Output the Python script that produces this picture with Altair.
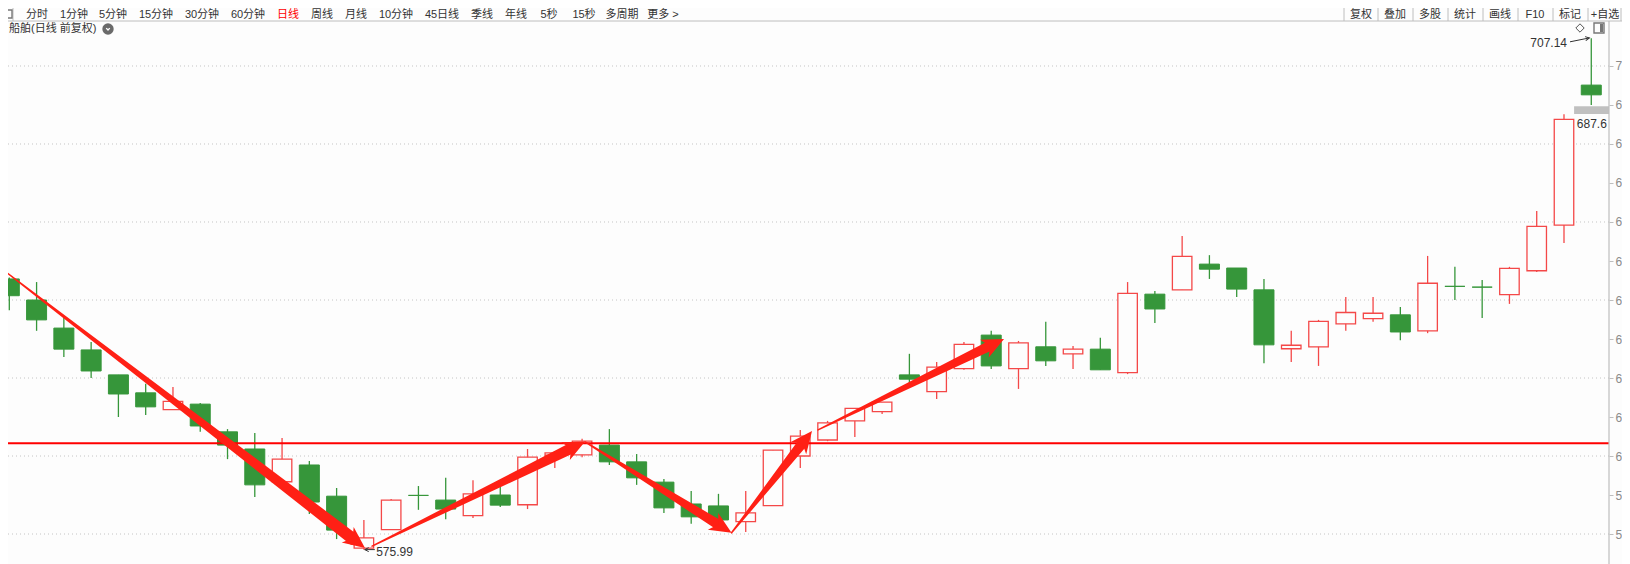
import math
import altair as alt
import pandas as pd

# Candles: body top, body bottom, high, low (prices); up=1 hollow red, up=0 solid green
BODY_TOP = [645.4,640.0,632.8,627.2,620.8,616.2,614.0,613.3,606.2,601.8,599.2,597.7,589.7,579.0,588.7,589.9,588.7,590.3,590.0,599.7,
            600.8,603.8,602.8,598.5,593.3,587.7,587.2,585.4,601.5,605.1,608.5,612.2,613.8,620.8,622.8,628.6,631.0,629.0,628.0,627.4,
            627.4,641.7,641.5,651.2,649.2,648.2,642.6,628.4,634.5,636.8,636.6,636.2,644.3,643.5,643.3,648.1,658.9,686.3,695.1]
BODY_BOT = [641.1,634.9,627.4,621.8,615.9,612.6,611.9,607.7,602.8,592.6,593.4,588.2,581.0,576.4,581.1,589.9,586.4,584.7,587.4,587.5,
            600.2,600.3,598.5,594.4,586.7,584.4,583.6,583.2,587.3,600.0,604.1,609.0,611.4,619.7,616.5,622.4,623.1,622.4,624.4,626.2,
            622.1,621.4,637.7,642.6,647.9,642.8,628.5,627.5,628.0,633.9,635.2,631.8,632.1,643.5,643.3,641.4,647.5,659.2,692.6]
HIGH = [645.8,644.6,635.7,629.2,620.8,618.5,617.7,613.6,606.9,605.9,604.6,598.7,591.8,583.6,589.0,592.3,594.4,593.8,592.1,601.8,
        601.3,604.4,606.9,600.5,594.1,591.0,590.3,591.0,601.5,606.7,609.0,612.2,613.8,626.2,624.1,629.2,632.1,629.5,634.4,628.2,
        630.3,644.6,642.3,656.4,651.5,648.2,645.4,632.1,634.9,640.8,640.8,638.2,651.3,648.5,645.1,648.5,662.8,687.6,707.14]
LOW = [637.4,632.1,625.4,620.0,610.0,610.5,611.9,606.2,599.2,589.5,593.4,585.1,578.7,575.99,581.0,586.2,583.8,584.1,586.9,586.4,
       596.9,599.7,597.7,592.6,585.4,582.6,583.1,580.5,587.3,596.9,603.8,604.9,610.8,618.7,614.6,622.1,622.3,617.2,623.1,622.3,
       622.1,621.0,634.1,642.6,645.4,640.8,623.8,624.1,623.1,632.1,634.4,629.7,631.5,640.0,635.4,639.0,647.2,654.6,690.0]
UP = [0,0,0,0,0,0,1,0,0,0,1,0,0,1,1,0,0,1,0,1,
      1,1,0,0,0,0,0,1,1,1,1,1,1,0,1,1,0,1,0,1,
      0,1,0,1,0,0,0,1,1,1,1,0,1,0,0,1,1,1,0]

GRID_PRICES = [700,680,660,640,620,600,580]
TICK_PRICES = [700,690,680,670,660,650,640,630,620,610,600,590,580]
RED_LEVEL = 603.3

# Arrows: start index, start price, end index, end price
ARROW_X0 = [-0.05,13.30,21.11,26.48,29.65]
ARROW_P0 = [646.8,576.9,603.6,580.3,606.7]
ARROW_X1 = [13.04,21.11,26.48,29.43,36.47]
ARROW_P1 = [576.4,603.7,580.3,606.4,630.0]

LEFT_TABS = ["分时","1分钟","5分钟","15分钟","30分钟","60分钟","日线","周线","月线","10分钟","45日线","季线","年线","5秒","15秒","多周期","更多 >"]
LEFT_TAB_X = [37,74,113,156,202,248,288,322,356,396,442,482,516,549,584,622,663]
RIGHT_TABS = ["复权","叠加","多股","统计","画线","F10","标记","+自选"]
RIGHT_TAB_X = [1361,1395,1430,1465,1500,1535,1570,1605]
SEPARATORS = [13,1344,1378,1413,1448,1483,1518,1553,1588,1621]

PX_PER_INDEX = 27.276
PX_PER_UNIT = 3.9
W, H = 1601, 556
DOMAIN_X = [-0.048, 58.65]
DOMAIN_Y = [572.31, 714.87]
RED, WICK_RED, GREEN, BG = "#FF0000", "#F44848", "#36963A", "#FDFDFD"
ARROW_RED = "#FF2015"
FONT = "Liberation Sans, Noto Sans CJK SC"
NUM_FONT = "Liberation Sans"

candles = pd.DataFrame({"i": range(len(HIGH)), "top": BODY_TOP, "bot": BODY_BOT, "hi": HIGH, "lo": LOW, "up": UP})
X = alt.X("i:Q", scale=alt.Scale(domain=DOMAIN_X, nice=False, zero=False, padding=0), axis=None)
Y = alt.Y("hi:Q", scale=alt.Scale(domain=DOMAIN_Y, nice=False, zero=False),
          axis=alt.Axis(orient="right", values=TICK_PRICES, title=None, grid=False, domain=False, tickSize=4,
                        tickColor="#BEBEBE", labelColor="#8A8A8A", labelFont=NUM_FONT, labelFontSize=12,
                        labelPadding=2, labelExpr="substring(datum.label,0,1)"))

base = alt.Chart(candles)
grid = alt.Chart(pd.DataFrame({"hi": GRID_PRICES})).mark_rule(color="#C4C4C4", strokeDash=[1, 3], strokeWidth=1).encode(y="hi:Q")

wicks_r = base.transform_filter("datum.up==1").mark_rule(color=WICK_RED, strokeWidth=1.3).encode(x=X, y=Y, y2="lo:Q")
wicks_g = base.transform_filter("datum.up==0").mark_rule(color=GREEN, strokeWidth=1.3).encode(x=X, y=Y, y2="lo:Q")
bodies_r = base.transform_filter("datum.up==1").mark_bar(width=19.5, fill=BG, stroke=WICK_RED, strokeWidth=1.3).encode(
    x=X, y=alt.Y("top:Q"), y2="bot:Q")
bodies_g = base.transform_filter("datum.up==0").mark_bar(width=20, fill=GREEN, stroke=GREEN, strokeWidth=1).encode(
    x=X, y=alt.Y("top:Q"), y2="bot:Q")

red_line = alt.Chart(pd.DataFrame({"hi": [RED_LEVEL]})).mark_rule(color=RED, strokeWidth=2).encode(y="hi:Q")

# Tapered arrows
trail_rows, head_rows = [], []
END_WIDTH = [12, 11, 10, 10, 10]
for k, (x0, p0, x1, p1) in enumerate(zip(ARROW_X0, ARROW_P0, ARROW_X1, ARROW_P1)):
    dx = (x1 - x0) * PX_PER_INDEX
    dy = -(p1 - p0) * PX_PER_UNIT
    length = math.hypot(dx, dy)
    back = 15 / length
    trail_rows.append({"a": k, "o": 0, "i": x0, "hi": p0, "w": 1.5})
    trail_rows.append({"a": k, "o": 1, "i": x1 - (x1 - x0) * back, "hi": p1 - (p1 - p0) * back, "w": END_WIDTH[k]})
    head_rows.append({"i": x1, "hi": p1, "angle": (math.degrees(math.atan2(dx, -dy)) + 360) % 360})

trails = alt.Chart(pd.DataFrame(trail_rows)).mark_trail(color=ARROW_RED).encode(
    x="i:Q", y="hi:Q", detail="a:N", order="o:Q", size=alt.Size("w:Q", scale=None, legend=None))
heads = alt.Chart(pd.DataFrame(head_rows)).mark_point(
    shape="M0,0 L-0.45,1 L0,0.72 L0.45,1 Z", filled=True, size=1900, color=ARROW_RED, opacity=1).encode(
    x="i:Q", y="hi:Q", angle=alt.Angle("angle:Q", scale=None))

# Small value callouts: line from label toward the extreme
lead_rows = [{"g": 0, "i": 57.22, "hi": 706.2}, {"g": 0, "i": 57.93, "hi": 707.2},
             {"g": 1, "i": 13.40, "hi": 576.0}, {"g": 1, "i": 13.03, "hi": 576.0}]
leads = alt.Chart(pd.DataFrame(lead_rows)).mark_line(color="#333333", strokeWidth=1).encode(
    x="i:Q", y="hi:Q", detail="g:N")
lead_heads = alt.Chart(pd.DataFrame([{"i": 57.93, "hi": 707.2, "angle": 80}, {"i": 13.03, "hi": 576.0, "angle": 270}])).mark_point(
    shape="M-0.5,1 L0,0 L0.5,1", filled=False, size=64, color="#333333", strokeWidth=1, opacity=1).encode(
    x="i:Q", y="hi:Q", angle=alt.Angle("angle:Q", scale=None))

value_labels = alt.Chart(pd.DataFrame([
    {"i": 57.11, "hi": 705.9, "t": "707.14"},
    {"i": 58.57, "hi": 685.1, "t": "687.6"},
])).mark_text(font=NUM_FONT, fontSize=12, color="#333333", align="right", baseline="middle").encode(
    x="i:Q", y="hi:Q", text="t:N")
low_label = alt.Chart(pd.DataFrame([{"i": 13.45, "hi": 575.3, "t": "575.99"}])).mark_text(
    font=NUM_FONT, fontSize=12, color="#333333", align="left", baseline="middle").encode(x="i:Q", y="hi:Q", text="t:N")
band = alt.Chart(pd.DataFrame([{"i": 57.37, "i2": 58.65, "hi": 689.7, "lo": 687.7}])).mark_rect(color="#C0C0C0").encode(
    x="i:Q", x2="i2:Q", y="hi:Q", y2="lo:Q")


def label(text, x, y, size=11, color="#333333", align="center"):
    return alt.Chart(alt.Data(values=[{"k": 0}])).mark_text(
        font=FONT, fontSize=size, color=color, align=align, baseline="middle").encode(
        x=alt.value(x - 8), y=alt.value(y - 8), text=alt.value(text))


def vline(x, y0, y1, color="#BEBEBE", width=1):
    return alt.Chart(alt.Data(values=[{"k": 0}])).mark_rule(color=color, strokeWidth=width).encode(
        x=alt.value(x - 8), y=alt.value(y0 - 8), y2=alt.value(y1 - 8))


chrome = []
for t, x in zip(LEFT_TABS, LEFT_TAB_X):
    chrome.append(label(t, x, 15, color="#FF0000" if t == "日线" else "#333333"))
for t, x in zip(RIGHT_TABS, RIGHT_TAB_X):
    chrome.append(label(t, x, 15))
for x in SEPARATORS:
    chrome.append(vline(x, 8, 21))
chrome.append(alt.Chart(alt.Data(values=[{"k": 0}])).mark_rule(color="#BEBEBE", strokeWidth=1).encode(
    x=alt.value(0), x2=alt.value(1614), y=alt.value(13)))
chrome.append(vline(1609, 21, 564, color="#BEBEBE", width=1.2))
chrome.append(label("船舶(日线 前复权)", 9, 29, size=11, align="left"))

one = alt.Data(values=[{"k": 0}])
chrome.append(alt.Chart(one).mark_point(shape="circle", filled=True, size=130, color="#6A6A6A", opacity=1).encode(
    x=alt.value(100), y=alt.value(21)))
chrome.append(alt.Chart(one).mark_point(shape="M-0.5,-0.25 L0,0.3 L0.5,-0.25", filled=False, size=50, color="#FFFFFF",
                                        strokeWidth=1.3, opacity=1).encode(x=alt.value(100), y=alt.value(21)))
chrome.append(alt.Chart(one).mark_point(shape="diamond", filled=False, size=70, color="#555555", strokeWidth=1, opacity=1).encode(
    x=alt.value(1572), y=alt.value(20)))
chrome.append(alt.Chart(one).mark_point(shape="square", filled=False, size=100, color="#777777", strokeWidth=1.4, opacity=1).encode(
    x=alt.value(1591), y=alt.value(20)))
chrome.append(alt.Chart(one).mark_rule(color="#777777", strokeWidth=3).encode(
    x=alt.value(1593.5), y=alt.value(16), y2=alt.value(24)))
chrome.append(alt.Chart(one).mark_point(shape="square", filled=False, size=64, color="#777777", strokeWidth=1.4, opacity=1).encode(
    x=alt.value(0), y=alt.value(6)))

chart = alt.layer(
    grid, wicks_g, wicks_r, bodies_g, bodies_r, band, red_line, trails, heads, leads, lead_heads,
    value_labels, low_label, *chrome
).properties(
    width=W, height=H, background=BG, autosize="none",
    padding={"left": 0, "right": 13, "top": 0, "bottom": 0},
).configure_view(stroke=None)

chart.save("out.html", embed_options={"renderer": "svg", "actions": False})
